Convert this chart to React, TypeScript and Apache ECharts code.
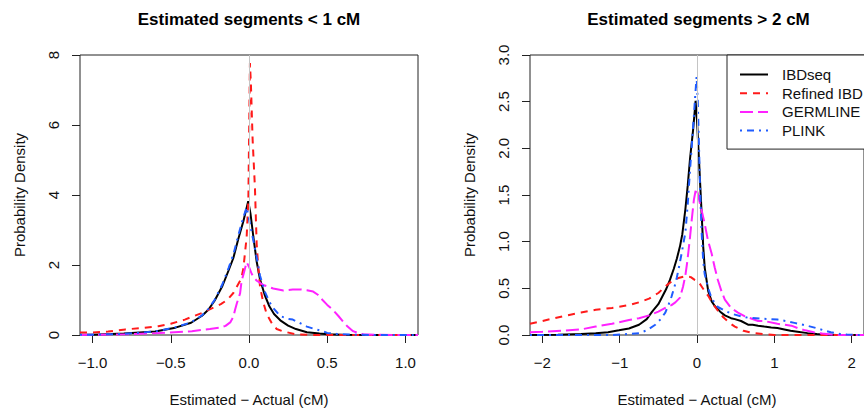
import React, { useEffect, useRef } from "react";
import * as echarts from "echarts";

// ---- data ----
const seriesNames = ["IBDseq", "Refined IBD", "GERMLINE", "PLINK"];
const seriesColors = ["#000000", "#ff1a1a", "#ff22ff", "#1f5cff"];
const seriesDash: (number[] | "solid")[] = ["solid", [7, 6], [13, 5], [2, 5, 7, 5]];

const panelTitles = ["Estimated segments < 1 cM", "Estimated segments > 2 cM"];
const xAxisTitle = "Estimated \u2212 Actual (cM)";
const yAxisTitle = "Probability Density";

const leftXTicks = [-1, -0.5, 0, 0.5, 1];
const leftYTicks = [0, 2, 4, 6, 8];
const rightXTicks = [-2, -1, 0, 1, 2];
const rightYTicks = [0, 0.5, 1, 1.5, 2, 2.5, 3];

// Left panel: segments < 1 cM  [difference (cM), density]
const leftIBDseq: [number, number][] = [
  [-1.08, 0.01], [-1.0, 0.01], [-0.8, 0.04], [-0.6, 0.1], [-0.47, 0.21], [-0.37, 0.35],
  [-0.3, 0.55], [-0.26, 0.72], [-0.22, 0.98], [-0.17, 1.4], [-0.13, 1.85], [-0.1, 2.2],
  [-0.068, 2.75], [-0.036, 3.25], [-0.005, 3.82], [0.01, 3.45], [0.028, 2.8], [0.049, 2.1],
  [0.07, 1.6], [0.1, 1.15], [0.13, 0.82], [0.16, 0.6], [0.2, 0.42], [0.25, 0.27],
  [0.3, 0.17], [0.37, 0.08], [0.45, 0.04], [0.5, 0.02], [0.6, 0.01], [0.8, 0], [1.08, 0],
];
const leftRefinedIBD: [number, number][] = [
  [-1.08, 0.07], [-1.0, 0.07], [-0.9, 0.1], [-0.79, 0.16], [-0.68, 0.2], [-0.58, 0.25],
  [-0.5, 0.32], [-0.41, 0.44], [-0.3, 0.63], [-0.22, 0.8], [-0.18, 0.88], [-0.14, 1.0],
  [-0.1, 1.2], [-0.078, 1.38], [-0.05, 1.6], [-0.036, 1.9], [-0.015, 2.8], [-0.004, 3.9],
  [0.006, 7.77], [0.012, 7.2], [0.023, 5.6], [0.038, 4.2], [0.049, 2.6], [0.06, 1.9],
  [0.07, 1.4], [0.09, 0.95], [0.113, 0.6], [0.144, 0.35], [0.177, 0.17], [0.22, 0.1],
  [0.3, 0.02], [0.4, 0], [1.08, 0],
];
const leftGERMLINE: [number, number][] = [
  [-1.08, 0], [-0.95, 0.01], [-0.79, 0.02], [-0.65, 0.04], [-0.51, 0.07], [-0.365, 0.11],
  [-0.25, 0.17], [-0.185, 0.21], [-0.15, 0.26], [-0.12, 0.36], [-0.1, 0.52], [-0.089, 0.72],
  [-0.078, 0.9], [-0.057, 1.19], [-0.047, 1.55], [-0.036, 1.72], [-0.015, 2.08], [0.0, 1.95],
  [0.017, 1.75], [0.035, 1.62], [0.05, 1.55], [0.09, 1.43], [0.155, 1.33], [0.22, 1.27],
  [0.28, 1.3], [0.33, 1.3], [0.37, 1.28], [0.41, 1.24], [0.44, 1.15], [0.47, 1.0],
  [0.5, 0.86], [0.54, 0.7], [0.57, 0.55], [0.6, 0.39], [0.63, 0.24], [0.665, 0.11],
  [0.7, 0.05], [0.73, 0.02], [0.8, 0.005], [1.08, 0],
];
const leftPLINK: [number, number][] = [
  [-1.08, 0.01], [-1.0, 0.01], [-0.8, 0.03], [-0.6, 0.1], [-0.47, 0.22], [-0.37, 0.36],
  [-0.3, 0.56], [-0.26, 0.74], [-0.22, 1.0], [-0.17, 1.45], [-0.13, 1.92], [-0.1, 2.3],
  [-0.068, 2.85], [-0.04, 3.3], [-0.015, 3.65], [0.005, 3.2], [0.028, 2.7], [0.05, 2.2],
  [0.07, 1.7], [0.1, 1.25], [0.13, 0.95], [0.155, 0.77], [0.2, 0.54], [0.25, 0.46],
  [0.28, 0.44], [0.33, 0.33], [0.37, 0.24], [0.42, 0.17], [0.47, 0.11], [0.5, 0.06],
  [0.56, 0.03], [0.65, 0.01], [0.8, 0], [1.08, 0],
];

// Right panel: segments > 2 cM
const rightIBDseq: [number, number][] = [
  [-2.16, 0], [-1.8, 0.003], [-1.5, 0.01], [-1.31, 0.02], [-1.15, 0.03], [-1.01, 0.05],
  [-0.88, 0.07], [-0.75, 0.11], [-0.65, 0.17], [-0.58, 0.25], [-0.5, 0.33], [-0.45, 0.41],
  [-0.4, 0.49], [-0.35, 0.59], [-0.3, 0.71], [-0.26, 0.82], [-0.22, 0.95], [-0.19, 1.08],
  [-0.15, 1.35], [-0.12, 1.6], [-0.09, 1.89], [-0.05, 2.2], [-0.018, 2.51], [0.0, 2.3],
  [0.025, 1.89], [0.045, 1.55], [0.06, 1.3], [0.08, 0.95], [0.1, 0.72], [0.145, 0.47],
  [0.19, 0.36], [0.23, 0.31], [0.3, 0.25], [0.36, 0.21], [0.44, 0.18], [0.49, 0.17],
  [0.57, 0.15], [0.66, 0.11], [0.72, 0.11], [0.79, 0.1], [0.87, 0.09], [0.96, 0.08],
  [1.04, 0.075], [1.13, 0.06], [1.21, 0.045], [1.3, 0.035], [1.43, 0.02], [1.55, 0.01],
  [1.64, 0.005], [1.8, 0], [2.16, 0],
];
const rightRefinedIBD: [number, number][] = [
  [-2.16, 0.12], [-2.0, 0.15], [-1.74, 0.2], [-1.5, 0.24], [-1.31, 0.27], [-1.1, 0.29],
  [-0.88, 0.32], [-0.75, 0.35], [-0.62, 0.39], [-0.5, 0.45], [-0.41, 0.52], [-0.32, 0.58],
  [-0.24, 0.61], [-0.15, 0.63], [-0.08, 0.62], [-0.03, 0.59], [0.02, 0.57], [0.06, 0.52],
  [0.1, 0.47], [0.145, 0.42], [0.2, 0.34], [0.27, 0.26], [0.34, 0.19], [0.42, 0.13],
  [0.49, 0.09], [0.6, 0.045], [0.7, 0.025], [0.85, 0.01], [1.0, 0], [2.16, 0],
];
const rightGERMLINE: [number, number][] = [
  [-2.16, 0.03], [-2.0, 0.035], [-1.74, 0.045], [-1.5, 0.06], [-1.31, 0.09], [-1.1, 0.12],
  [-0.88, 0.16], [-0.75, 0.18], [-0.62, 0.21], [-0.5, 0.25], [-0.41, 0.29], [-0.33, 0.32],
  [-0.28, 0.35], [-0.22, 0.4], [-0.18, 0.52], [-0.15, 0.64], [-0.13, 0.76], [-0.11, 0.9],
  [-0.09, 1.05], [-0.07, 1.22], [-0.04, 1.45], [-0.013, 1.57], [0.01, 1.52], [0.04, 1.4],
  [0.07, 1.3], [0.1, 1.19], [0.14, 1.02], [0.19, 0.87], [0.23, 0.72], [0.27, 0.59],
  [0.32, 0.46], [0.36, 0.38], [0.44, 0.29], [0.53, 0.24], [0.62, 0.2], [0.79, 0.15],
  [0.87, 0.15], [1.04, 0.12], [1.13, 0.11], [1.22, 0.1], [1.3, 0.075], [1.4, 0.05],
  [1.51, 0.03], [1.62, 0.015], [1.73, 0.005], [1.85, 0], [2.16, 0],
];
const rightPLINK: [number, number][] = [
  [-2.16, 0], [-1.5, 0], [-1.09, 0], [-0.9, 0.01], [-0.75, 0.02], [-0.65, 0.05],
  [-0.54, 0.11], [-0.47, 0.17], [-0.41, 0.24], [-0.37, 0.32], [-0.33, 0.41], [-0.29, 0.52],
  [-0.26, 0.62], [-0.23, 0.74], [-0.2, 0.87], [-0.15, 1.1], [-0.12, 1.4], [-0.1, 1.65],
  [-0.07, 2.0], [-0.04, 2.35], [-0.02, 2.6], [-0.005, 2.77], [0.01, 2.5], [0.025, 2.05],
  [0.04, 1.55], [0.06, 1.1], [0.08, 0.8], [0.1, 0.65], [0.145, 0.5], [0.19, 0.39],
  [0.27, 0.3], [0.36, 0.26], [0.44, 0.23], [0.57, 0.2], [0.66, 0.185], [0.83, 0.175],
  [0.95, 0.17], [1.04, 0.165], [1.15, 0.15], [1.26, 0.13], [1.37, 0.11], [1.47, 0.09],
  [1.56, 0.07], [1.64, 0.05], [1.73, 0.03], [1.85, 0.012], [1.94, 0.005], [2.1, 0], [2.16, 0],
];

const panelData = [
  [leftIBDseq, leftRefinedIBD, leftGERMLINE, leftPLINK],
  [rightIBDseq, rightRefinedIBD, rightGERMLINE, rightPLINK],
];

const FONT = "'Liberation Sans', Arial, Helvetica, sans-serif";
const AX = "#222";

function fmtNum(v: number, digits: number) {
  const s = Math.abs(v).toFixed(digits);
  return (v < 0 ? "\u2212" : "") + s;
}

export default function App() {
  const ref = useRef<HTMLDivElement>(null);
  useEffect(() => {
    document.body.style.margin = "0";
    if (!ref.current) return;
    const chart = echarts.init(ref.current, null, { renderer: "svg" });

    const grids = [
      { left: 80, top: 55, width: 338, height: 284 },
      { left: 530, top: 55, width: 337, height: 284 },
    ];
    const xRanges = [[-1.08, 1.08], [-2.16, 2.16]];
    const yRanges = [[0, 8], [0, 3]];
    const xTicks = [leftXTicks, rightXTicks];
    const yTicks = [leftYTicks, rightYTicks];
    const xDigits = [1, 0];
    const yDigits = [0, 1];
    const centers = [249, 698.5];

    const xAxes = [0, 1].map((p) => ({
      type: "value",
      gridIndex: p,
      position: "bottom",
      min: xRanges[p][0],
      max: xRanges[p][1],
      splitLine: { show: false },
      axisLine: { show: false, onZero: false },
      axisTick: {
        show: true,
        customValues: xTicks[p],
        length: 8,
        lineStyle: { color: AX, width: 1 },
      },
      axisLabel: {
        customValues: xTicks[p],
        formatter: (v: number) => fmtNum(v, xDigits[p]),
        fontSize: 15,
        fontFamily: FONT,
        color: "#111",
        margin: 20,
      },
      name: xAxisTitle,
      nameLocation: "middle",
      nameGap: 57,
      nameTextStyle: { fontSize: 15, fontFamily: FONT, color: "#111" },
    }));

    const yAxes = [0, 1].map((p) => ({
      type: "value",
      gridIndex: p,
      position: "left",
      min: yRanges[p][0],
      max: yRanges[p][1],
      splitLine: { show: false },
      axisLine: { show: false, onZero: false },
      axisTick: {
        show: true,
        customValues: yTicks[p],
        length: 8,
        lineStyle: { color: AX, width: 1 },
      },
      axisLabel: {
        customValues: yTicks[p],
        formatter: (v: number) => fmtNum(v, yDigits[p]),
        rotate: 90,
        fontSize: 15,
        fontFamily: FONT,
        color: "#111",
        margin: 19,
      },
      name: yAxisTitle,
      nameLocation: "middle",
      nameGap: 53,
      nameRotate: 90,
      nameTextStyle: { fontSize: 15, fontFamily: FONT, color: "#111" },
    }));

    const series: any[] = [];
    [0, 1].forEach((p) => {
      seriesNames.forEach((name, i) => {
        const s: any = {
          type: "line",
          name,
          xAxisIndex: p,
          yAxisIndex: p,
          data: panelData[p][i],
          symbol: "none",
          showSymbol: false,
          smooth: false,
          lineStyle: { color: seriesColors[i], width: 2, type: seriesDash[i], cap: "butt" },
          itemStyle: { color: seriesColors[i] },
          z: 3,
        };
        if (i === seriesNames.length - 1) {
          s.markLine = {
            silent: true,
            symbol: ["none", "none"],
            label: { show: false },
            lineStyle: { color: "#c4c4c4", width: 1, type: "solid" },
            data: [{ xAxis: 0 }],
          };
        }
        series.push(s);
      });
    });

    chart.setOption({
      animation: false,
      backgroundColor: "#ffffff",
      grid: grids.map((g) => ({
        ...g,
        show: true,
        borderColor: AX,
        borderWidth: 1,
        backgroundColor: "transparent",
        containLabel: false,
      })),
      xAxis: xAxes,
      yAxis: yAxes,
      legend: {
        orient: "vertical",
        left: 727,
        top: 55,
        padding: [12, 12, 11, 12],
        itemWidth: 28,
        itemHeight: 14,
        itemGap: 3.7,
        backgroundColor: "#ffffff",
        borderColor: AX,
        borderWidth: 1,
        borderRadius: 0,
        selectedMode: false,
        data: seriesNames,
        itemStyle: { color: "transparent", borderWidth: 0, opacity: 0 },
        textStyle: { fontSize: 15, fontFamily: FONT, color: "#111", padding: [0, 0, 0, 9] },
        z: 10,
      },
      graphic: panelTitles.map((t, p) => ({
        type: "text",
        x: centers[p],
        y: 19,
        style: {
          text: t,
          textAlign: "center",
          textVerticalAlign: "middle",
          font: `bold 17px ${FONT}`,
          fill: "#000",
        },
      })),
      series,
    });

    return () => chart.dispose();
  }, []);

  return <div ref={ref} style={{ width: 864, height: 412 }} />;
}
